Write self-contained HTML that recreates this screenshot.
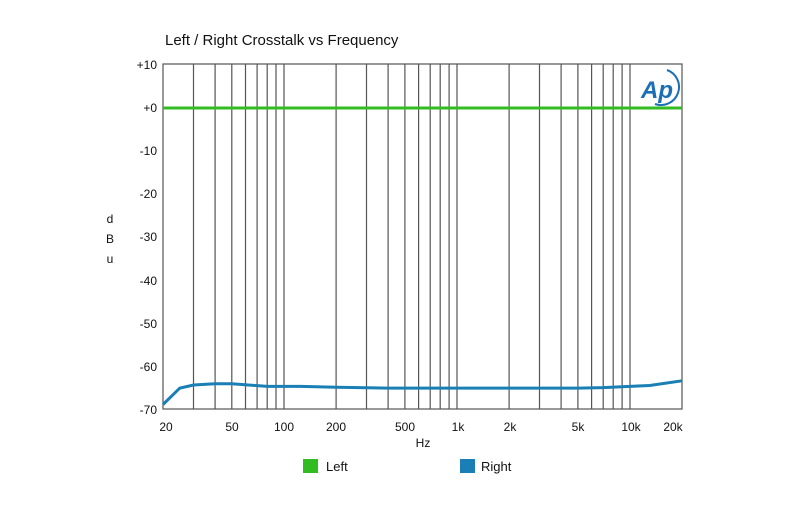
<!DOCTYPE html>
<html><head><style>body{margin:0;background:#fff}</style></head><body>
<svg width="800" height="500" xmlns="http://www.w3.org/2000/svg" font-family="Liberation Sans, Arial, sans-serif">
<rect width="800" height="500" fill="#fff"/>
<text x="165" y="45" font-size="15" fill="#111">Left / Right Crosstalk vs Frequency</text>
<g stroke="#555" stroke-width="1.2" fill="none">
<rect x="163" y="64" width="519" height="345"/>
<path d="M193.5 64V409M215.1 64V409M231.8 64V409M245.5 64V409M257.1 64V409M267.2 64V409M276 64V409M284 64V409M336.1 64V409M366.5 64V409M388.1 64V409M404.9 64V409M418.6 64V409M430.2 64V409M440.2 64V409M449.1 64V409M457 64V409M509.1 64V409M539.5 64V409M561.1 64V409M577.9 64V409M591.6 64V409M603.2 64V409M613.2 64V409M622.1 64V409M630 64V409"/>
</g>
<g font-size="12" fill="#111" text-anchor="end">
<text x="157" y="69">+10</text><text x="157" y="112">+0</text><text x="157" y="155">-10</text><text x="157" y="198">-20</text><text x="157" y="241">-30</text><text x="157" y="285">-40</text><text x="157" y="328">-50</text><text x="157" y="371">-60</text><text x="157" y="414">-70</text>
</g>
<g font-size="12" fill="#111" text-anchor="middle">
<text x="166" y="431">20</text><text x="232" y="431">50</text><text x="284" y="431">100</text><text x="336" y="431">200</text><text x="405" y="431">500</text><text x="458" y="431">1k</text><text x="510" y="431">2k</text><text x="578" y="431">5k</text><text x="631" y="431">10k</text><text x="673" y="431">20k</text>
<text x="423" y="447">Hz</text>
<text x="110" y="223">d</text><text x="110" y="243">B</text><text x="110" y="263">u</text>
</g>
<line x1="163" y1="108" x2="682" y2="108" stroke="#33bb22" stroke-width="3"/>
<polyline fill="none" stroke="#1a7fb5" stroke-width="3" points="163,404.5 179.8,388.1 193.5,385 215.1,383.8 231.8,383.8 267.2,386.4 300.8,386.4 336.1,387.2 388.1,388.1 577.9,388.1 603.2,387.6 630,386.4 649.7,385.5 682,380.8"/>
<text x="641" y="98" font-size="24" font-style="italic" font-weight="bold" fill="#1a6fb5" font-family="Liberation Sans, sans-serif">Ap</text>
<path d="M667 70 A16 16 0 0 1 655 104" stroke="#1a6fb5" stroke-width="2" fill="none"/>
<rect x="303" y="459" width="15" height="14" fill="#33bb22"/>
<text x="326" y="471" font-size="13" fill="#111">Left</text>
<rect x="460" y="459" width="15" height="14" fill="#1a7fb5"/>
<text x="481" y="471" font-size="13" fill="#111">Right</text>
</svg>
</body></html>
